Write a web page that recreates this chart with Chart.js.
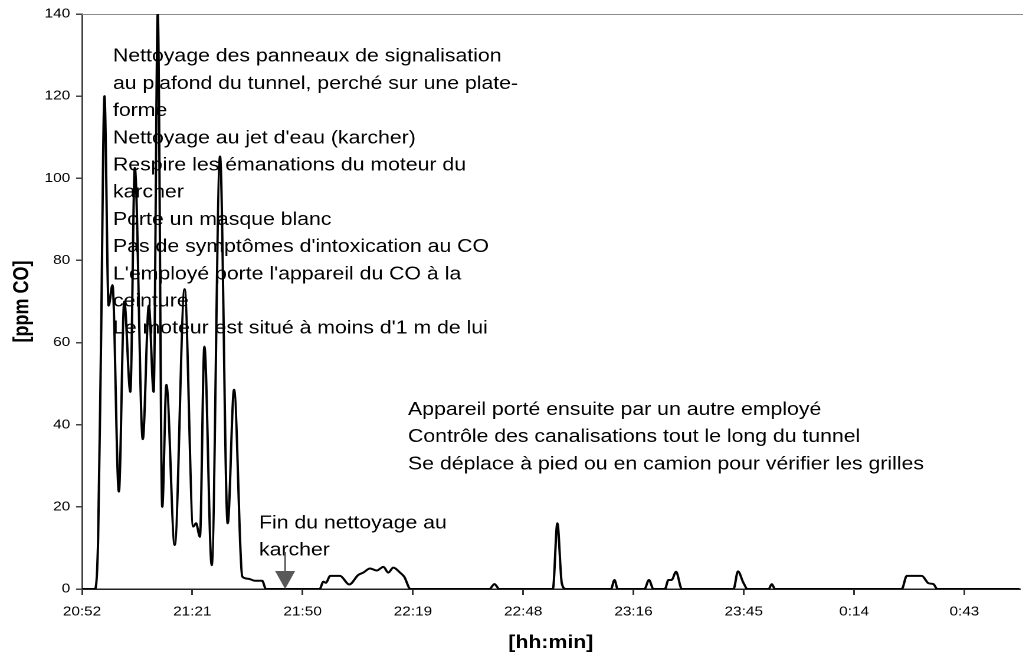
<!DOCTYPE html>
<html lang="fr">
<head>
<meta charset="utf-8">
<title>CO – nettoyage du tunnel</title>
<script src="https://cdn.jsdelivr.net/npm/chart.js@4/dist/chart.umd.min.js"></script>
<style>
  html, body { margin: 0; padding: 0; background: #fff; overflow: hidden; }
  /* the chart is laid out narrow and widened horizontally */
  #wrap { width: 867px; height: 660px; transform: scaleX(1.18); transform-origin: 0 0; }
  canvas { display: block; }
</style>
</head>
<body>
<div id="wrap"><canvas id="co" width="867" height="660"></canvas></div>
<script>
// Logged CO concentration (ppm) against clock time (h:mm:ss, past midnight after 0:00)
const sampleTimes = [
  "20:52:48", "20:56:10", "20:57:00", "20:57:45", "20:58:40", "20:59:45", "21:00:45",
  "21:02:25", "21:03:50", "21:05:25", "21:06:35", "21:08:40", "21:10:15", "21:11:30",
  "21:12:35", "21:13:45", "21:14:50", "21:17:00", "21:19:35", "21:21:50", "21:22:35",
  "21:23:35", "21:24:45", "21:26:40", "21:28:50", "21:30:50", "21:32:30", "21:34:40",
  "21:36:10", "21:38:00", "21:39:50", "21:40:50", "21:54:50", "21:55:50", "21:56:30",
  "21:57:35", "22:00:10", "22:02:35", "22:04:55", "22:06:15", "22:08:00", "22:09:45",
  "22:11:30", "22:12:45", "22:14:05", "22:15:50", "22:16:55", "22:18:35", "22:39:10",
  "22:40:30", "22:41:45", "22:55:45", "22:56:55", "22:58:05", "22:59:10", "23:10:55",
  "23:11:50", "23:12:40", "23:19:40", "23:20:50", "23:22:00", "23:25:00", "23:25:55",
  "23:26:45", "23:27:55", "23:29:25", "23:42:55", "23:44:05", "23:45:30", "23:46:35",
  "23:52:05", "23:52:55", "23:53:45", "0:26:50", "0:28:10", "0:32:05", "0:33:50",
  "0:35:05", "0:36:10", "0:57:36"
];
const coPpm = [
  0, 0, 12, 59, 120, 69, 74,
  23.7, 70, 48, 102.5, 36.5, 69, 48,
  140, 20, 49.7, 10.7, 73, 15.2, 16,
  12.7, 59, 5.8, 105.3, 16, 48.5, 3,
  2.5, 2, 2, 0, 0, 1.8, 1.5,
  3.2, 3.2, 1.1, 3.4, 4, 5, 4.5,
  5.4, 4, 5.2, 4, 3, 0, 0,
  1.2, 0, 0, 16, 1.4, 0, 0,
  2.2, 0, 0, 2.2, 0, 0, 2.2,
  2.2, 4.2, 0, 0, 4.3, 1.5, 0,
  0, 1.2, 0, 0, 3.2, 3.2, 1.4,
  1.2, 0, 0
];

// Time axis: range and tick positions with their labels
const axisStart = "20:52:48";
const axisEnd = "0:57:36";
const tickTimes = ["20:52:48", "21:21:36", "21:50:24", "22:19:12", "22:48:00",
                   "23:16:48", "23:45:36", "0:14:24", "0:43:12"];
const tickLabels = ["20:52", "21:21", "21:50", "22:19", "22:48", "23:16", "23:45", "0:14", "0:43"];

// Field notes
const cleaningNotes = [
  "Nettoyage des panneaux de signalisation",
  "au plafond du tunnel, perché sur une plate-",
  "forme",
  "Nettoyage au jet d'eau (karcher)",
  "Respire les émanations du moteur du",
  "karcher",
  "Porte un masque blanc",
  "Pas de symptômes d'intoxication au CO",
  "L'employé porte l'appareil du CO à la",
  "ceinture",
  "Le moteur est situé à moins d'1 m de lui"
];
const patrolNotes = [
  "Appareil porté ensuite par un autre employé",
  "Contrôle des canalisations tout le long du tunnel",
  "Se déplace à pied ou en camion pour vérifier les grilles"
];
const endNote = ["Fin du nettoyage au", "karcher"];
const endOfCleaning = "21:45:50";

// h:mm:ss -> minutes since midnight of the first day
function toMinutes(t) {
  const [h, m, s] = t.split(":").map(Number);
  return (h < 12 ? h + 24 : h) * 60 + m + (s || 0) / 60;
}

const FONT = '"Liberation Sans", Arial, Helvetica, sans-serif';
const LINE_GAP = 27.2;

const notesPlugin = {
  id: 'fieldNotes',
  beforeDatasetsDraw(chart) {
    const { ctx, chartArea, scales: { x, y } } = chart;
    ctx.save();
    // upper frame line
    ctx.strokeStyle = '#8c8c8c';
    ctx.lineWidth = 1;
    ctx.beginPath();
    ctx.moveTo(chartArea.left, chartArea.top + 0.5);
    ctx.lineTo(chart.width, chartArea.top + 0.5);
    ctx.stroke();

    ctx.font = '18px ' + FONT;
    ctx.fillStyle = '#000';
    ctx.textAlign = 'left';
    ctx.textBaseline = 'middle';
    const blocks = [
      { lines: cleaningNotes, at: "21:00:54", level: 129.6 },
      { lines: patrolNotes, at: "22:17:56", level: 43.6 },
      { lines: endNote, at: "21:39:01", level: 16.0 }
    ];
    blocks.forEach(b => {
      const px = x.getPixelForValue(toMinutes(b.at));
      const py = y.getPixelForValue(b.level);
      b.lines.forEach((txt, i) => ctx.fillText(txt, px, py + i * LINE_GAP));
    });
    ctx.restore();
  },
  afterDatasetsDraw(chart) {
    const { ctx, scales: { x, y } } = chart;
    const ax = x.getPixelForValue(toMinutes(endOfCleaning));
    const tip = y.getPixelForValue(0);
    ctx.save();
    ctx.strokeStyle = '#595959';
    ctx.fillStyle = '#595959';
    ctx.lineWidth = 1.5;
    ctx.beginPath();
    ctx.moveTo(ax, tip - 37);
    ctx.lineTo(ax, tip - 16);
    ctx.stroke();
    ctx.beginPath();
    ctx.moveTo(ax - 8.5, tip - 18);
    ctx.lineTo(ax + 8.5, tip - 18);
    ctx.lineTo(ax, tip);
    ctx.closePath();
    ctx.fill();
    ctx.restore();
  }
};

const points = sampleTimes.map((t, i) => ({ x: toMinutes(t), y: coPpm[i] }));
const tickValues = tickTimes.map(toMinutes);

new Chart(document.getElementById('co'), {
  type: 'line',
  data: {
    datasets: [{
      label: 'CO',
      data: points,
      borderColor: '#000',
      borderWidth: 2,
      pointRadius: 0,
      fill: false,
      cubicInterpolationMode: 'monotone'
    }]
  },
  options: {
    responsive: false,
    animation: false,
    devicePixelRatio: 2,
    layout: { padding: { left: 0, top: 14, right: 3, bottom: 0 } },
    plugins: { legend: { display: false }, tooltip: { enabled: false } },
    scales: {
      x: {
        type: 'linear',
        min: toMinutes(axisStart),
        max: toMinutes(axisEnd),
        afterFit(scale) { scale.height = 71; },
        afterBuildTicks(scale) { scale.ticks = tickValues.map(v => ({ value: v })); },
        ticks: {
          autoSkip: false,
          maxRotation: 0,
          padding: 9,
          color: '#000',
          font: { family: FONT, size: 13 },
          callback(value) {
            const k = tickValues.findIndex(v => Math.abs(v - value) < 0.01);
            return k >= 0 ? tickLabels[k] : '';
          }
        },
        grid: { drawOnChartArea: false, drawTicks: true, tickLength: 6, color: '#333', lineWidth: 1.5 },
        border: { display: true, color: '#222', width: 1.5 },
        title: {
          display: true,
          text: '[hh:min]',
          color: '#000',
          font: { family: FONT, size: 18, weight: 'bold' },
          padding: { top: 0, bottom: 6 }
        }
      },
      y: {
        min: 0,
        max: 140,
        afterFit(scale) { scale.width = 69.5; },
        ticks: {
          stepSize: 20,
          padding: 5,
          color: '#000',
          font: { family: FONT, size: 13 }
        },
        grid: { drawOnChartArea: false, drawTicks: true, tickLength: 5, color: '#444', lineWidth: 1.5 },
        border: { display: true, color: '#444', width: 1.5 },
        title: {
          display: true,
          text: '[ppm CO]',
          color: '#000',
          font: { family: FONT, size: 18, weight: 'bold' },
          padding: { top: 8, bottom: 0 }
        }
      }
    }
  },
  plugins: [notesPlugin]
});
</script>
</body>
</html>
